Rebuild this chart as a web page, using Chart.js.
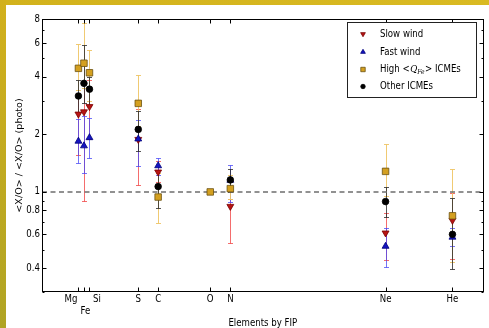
<!DOCTYPE html>
<html><head><meta charset="utf-8">
<script src="https://cdn.jsdelivr.net/npm/chart.js@4"></script>
<style>
html,body{margin:0;padding:0;background:#fff;}
#wrap{position:relative;width:489px;height:328px;overflow:hidden;background:#fff;}
#c{position:absolute;left:0;top:0;}
.ft{position:absolute;left:0;top:0;width:489px;height:5px;background:linear-gradient(90deg,#d2b21c,#d9ba22);}
.fl{position:absolute;left:0;top:0;width:6px;height:328px;background:linear-gradient(#d2b01c,#b0a424);}
</style></head><body>
<div id="wrap"><canvas id="c" width="489" height="328"></canvas><div class="ft"></div><div class="fl"></div></div>
<script>
// ---- data ----
const elements = ['Mg','Fe','Si','S','C','O','N','Ne','He'];
const fip      = [7.65, 7.90, 8.15, 10.36, 11.26, 13.62, 14.53, 21.56, 24.59];

const slowWind   = [2.55, 2.62, 2.79, 1.88, 1.27, null, 0.84, 0.61, 0.71];
const slowLo     = [1.55, 0.90, 1.90, 1.08, 1.12, null, 0.54, 0.44, 0.445];
const slowHi     = [3.30, 3.70, 3.85, 2.71, 1.45, null, 0.92, 0.78, 0.99];

const fastWind   = [1.84, 1.74, 1.92, 1.89, 1.37, null, 1.15, 0.52, 0.58];
const fastLo     = [1.42, 1.25, 1.50, 1.37, 1.22, null, 0.89, 0.405, 0.52];
const fastHi     = [2.40, 2.50, 2.43, 2.37, 1.50, null, 1.38, 0.65, 0.65];

const highQ      = [4.42, 4.70, 4.19, 2.90, 0.94, 1.00, 1.04, 1.28, 0.75];
const highLo     = [3.40, 3.50, 3.00, 2.20, 0.69, null, 0.92, 0.95, 0.43];
const highHi     = [5.95, 7.60, 5.50, 4.08, 1.25, null, 1.23, 1.78, 1.32];

const otherICME  = [3.17, 3.69, 3.44, 2.12, 1.066, null, 1.155, 0.89, 0.60];
const otherLo    = [2.60, 2.90, 2.80, 1.64, 0.82, null, 1.00, 0.74, 0.395];
const otherHi    = [3.85, 5.86, 4.00, 2.65, 1.30, null, 1.32, 1.06, 0.93];

const yMajorTicks = [0.4, 0.6, 0.8, 1, 2, 4, 6, 8];
const yMinorTicks = [0.3, 0.5, 0.7, 0.9, 3, 5, 7];
const refLevel = 1;

const FONT = "'DejaVu Sans',sans-serif";
const SQ = 0.86; // horizontal squeeze of the reference's text

const series = [
  {label:'Slow wind', v:slowWind, lo:slowLo, hi:slowHi, style:'triangle', rot:180, r:4.0, fill:'#b81414', edge:'#7a0000', err:'rgba(240,60,60,0.75)'},
  {label:'Fast wind', v:fastWind, lo:fastLo, hi:fastHi, style:'triangle', rot:0, r:4.0, fill:'#1414c0', edge:'#00007a', err:'rgba(70,70,245,0.75)'},
  {label:'High', v:highQ, lo:highLo, hi:highHi, style:'rect', rot:0, r:4.6, fill:'#d4a020', edge:'#6b5010', err:'rgba(238,196,100,0.9)'},
  {label:'Other ICMEs', v:otherICME, lo:otherLo, hi:otherHi, style:'circle', rot:0, r:3.3, fill:'#000', edge:'#000', err:'rgba(40,40,40,0.8)'}
];

function pts(arr){ const o=[]; arr.forEach((v,i)=>{ if(v!=null) o.push({x:fip[i], y:v}); }); return o; }

const datasets = [
  {type:'line', data:[{x:6,y:refLevel},{x:26,y:refLevel}], borderColor:'#6e6e6e', borderWidth:1.5, borderDash:[5,3.5], pointRadius:0, order:10}
].concat(series.map((s,k)=>({
  type:'scatter', label:s.label, data:pts(s.v), pointStyle:s.style, rotation:s.rot, pointRadius:s.r,
  backgroundColor:s.fill, borderColor:s.edge, borderWidth:0.8, order:4-k
})));

function sqText(ctx, text, x, y, align, font){
  ctx.save(); ctx.translate(x,y); ctx.scale(SQ,1);
  ctx.font = font || ("10px "+FONT); ctx.textAlign = align; ctx.textBaseline='middle';
  ctx.fillText(text,0,0); ctx.restore();
}

const deco = {
  id:'deco',
  beforeDatasetsDraw(chart){
    const {ctx, scales:{x,y}, chartArea:a} = chart;
    ctx.save();
    ctx.beginPath(); ctx.rect(a.left,a.top,a.right-a.left,a.bottom-a.top); ctx.clip();
    ctx.lineWidth = 1;
    series.forEach(s=>{
      ctx.strokeStyle = s.err;
      fip.forEach((fx,i)=>{
        if(s.lo[i]==null) return;
        const px = Math.round(x.getPixelForValue(fx))+0.5;
        const p1 = Math.round(y.getPixelForValue(s.lo[i]))+0.5, p2 = Math.round(y.getPixelForValue(s.hi[i]))+0.5;
        ctx.beginPath();
        ctx.moveTo(px,p1); ctx.lineTo(px,p2);
        ctx.moveTo(px-2.5,p1); ctx.lineTo(px+2.5,p1);
        ctx.moveTo(px-2.5,p2); ctx.lineTo(px+2.5,p2);
        ctx.stroke();
      });
    });
    ctx.restore();
  },
  afterDraw(chart){
    const {ctx, scales:{x,y}, chartArea:a} = chart;
    ctx.save();
    // frame
    ctx.strokeStyle='#000'; ctx.lineWidth=1;
    const L=Math.round(a.left)+0.5, R=Math.round(a.right)-0.5, T=Math.round(a.top)+0.5, B=Math.round(a.bottom)-0.5;
    ctx.strokeRect(L,T,R-L,B-T);
    // ticks
    ctx.beginPath();
    const yt = (v,len)=>{ const py=Math.round(y.getPixelForValue(v))+0.5; ctx.moveTo(L,py); ctx.lineTo(L+len,py); ctx.moveTo(R,py); ctx.lineTo(R-len,py); };
    yMajorTicks.forEach(v=>yt(v,4)); yMinorTicks.forEach(v=>yt(v,2));
    fip.forEach(f=>{ const px=Math.round(x.getPixelForValue(f))+0.5; ctx.moveTo(px,B); ctx.lineTo(px,B-4); ctx.moveTo(px,T); ctx.lineTo(px,T+4); });
    ctx.stroke();
    ctx.fillStyle='#000';
    // y labels
    yMajorTicks.forEach(v=>sqText(ctx,String(v),40,y.getPixelForValue(v),'right'));
    // x labels
    elements.forEach((e,i)=>{
      const px = x.getPixelForValue(fip[i]);
      if(e==='Mg') sqText(ctx,e,px-1,299.5,'right');
      else if(e==='Si') sqText(ctx,e,px+3.5,299.5,'left');
      else if(e==='Fe') sqText(ctx,e,px+1.5,311.5,'center');
      else sqText(ctx,e,px,299.5,'center');
    });
    // axis titles
    sqText(ctx,'Elements by FIP',(a.left+a.right)/2,323,'center');
    ctx.save();
    ctx.translate(20,(a.top+a.bottom)/2); ctx.rotate(-Math.PI/2); ctx.scale(1,SQ);
    ctx.font="9.6px "+FONT; ctx.textAlign='center'; ctx.textBaseline='middle';
    ctx.fillText('<X/O> / <X/O> (photo)',0,0);
    ctx.restore();
    // legend
    ctx.fillStyle='#fff'; ctx.fillRect(347.5,22.5,129,75);
    ctx.strokeStyle='#222'; ctx.lineWidth=1; ctx.strokeRect(347.5,22.5,129,75);
    const rows=[34,52,69.5,86.5];
    series.forEach((s,k)=>{
      ctx.fillStyle=s.fill; ctx.strokeStyle=s.edge; ctx.lineWidth=0.8;
      Chart.helpers.drawPoint(ctx,{pointStyle:s.style,rotation:s.rot,radius:s.r*0.68,borderWidth:0.8},363,rows[k]);
      ctx.fillStyle='#000';
      if(k===2){
        ctx.save(); ctx.translate(380,rows[k]); ctx.scale(SQ,1);
        ctx.textAlign='left'; ctx.textBaseline='middle';
        let tx=0;
        ctx.font="10px "+FONT; ctx.fillText('High <',tx,0); tx+=ctx.measureText('High <').width+0.5;
        ctx.font="italic 10px 'DejaVu Serif',serif"; ctx.fillText('Q',tx,0); tx+=ctx.measureText('Q').width;
        ctx.font="italic 7px 'DejaVu Serif',serif"; ctx.fillText('Fe',tx,2.5); tx+=ctx.measureText('Fe').width+0.5;
        ctx.font="10px "+FONT; ctx.fillText('> ICMEs',tx,0);
        ctx.restore();
      } else sqText(ctx,s.label,380,rows[k],'left');
    });
    ctx.restore();
  }
};

new Chart(document.getElementById('c'),{
  data:{datasets},
  options:{
    responsive:false, animation:false, devicePixelRatio:1,
    layout:{padding:{left:0,top:19,right:3,bottom:0}},
    plugins:{legend:{display:false}, tooltip:{enabled:false}},
    scales:{
      x:{type:'linear', min:6, max:26, ticks:{display:false}, grid:{display:false,drawTicks:false,tickLength:0}, border:{display:false},
         afterFit(s){ s.height=36; }},
      y:{type:'logarithmic', min:0.3, max:8,
         afterBuildTicks(s){ s.ticks = yMajorTicks.concat(yMinorTicks).sort((p,q)=>p-q).map(v=>({value:v})); },
         ticks:{display:false},
         grid:{display:false,drawTicks:false,tickLength:0}, border:{display:false},
         afterFit(s){ s.width=42; }}
    }
  },
  plugins:[deco]
});
</script>
</body></html>
